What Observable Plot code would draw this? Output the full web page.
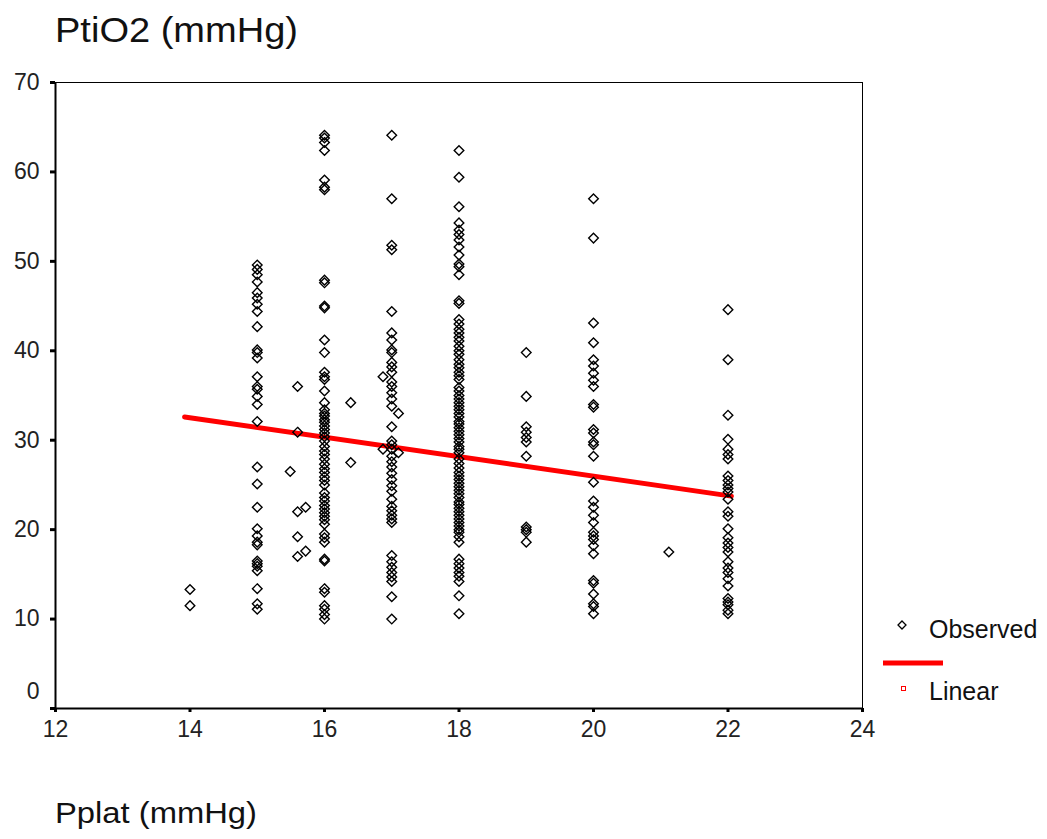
<!DOCTYPE html>
<html><head><meta charset="utf-8">
<script src="https://cdn.jsdelivr.net/npm/d3@7"></script>
<script src="https://cdn.jsdelivr.net/npm/@observablehq/plot@0.6"></script>
<style>
body{margin:0;background:#fff;}
#wrap{position:relative;width:1047px;height:839px;overflow:hidden;}
#wrap svg{position:absolute;left:0;top:0;}
</style></head><body><div id="wrap"></div>
<script>
const xTicks = [12, 14, 16, 18, 20, 22, 24];
const yTicks = [0, 10, 20, 30, 40, 50, 60, 70];

// Observed PtiO2 values per Pplat column
const obs14 = [13.3, 11.5];
const obs15 = [49.6, 49.1, 48.5, 47.7, 46.5, 45.9, 45.2, 44.4, 42.7, 40.1, 39.8, 39.2, 37.1, 36.0, 35.7, 34.9, 34.0, 32.1, 27.0, 25.1, 22.5, 20.1, 19.3, 18.6, 18.3, 16.5, 16.2, 15.9, 15.4, 13.4, 11.7, 11.1];
const obs16 = [64.1, 63.8, 63.3, 62.4, 59.1, 58.3, 58.0, 47.9, 47.6, 45.0, 44.8, 41.2, 39.8, 37.6, 37.1, 36.8, 35.5, 34.2, 33.4,
  33.0, 32.7, 32.3, 32.0, 31.6, 31.2, 30.8, 30.4, 29.9, 29.3, 28.8, 28.4, 27.9, 27.3, 26.8, 26.4, 25.9, 25.5, 25.0,
  24.1, 23.6, 23.2, 22.7, 22.3, 21.9, 21.5, 21.1, 20.6, 19.5, 19.1, 18.6, 16.7, 16.5, 13.4, 13.0, 11.5, 11.1, 10.5, 10.0];
const obs17 = [64.1, 57.0, 51.8, 51.3, 44.4, 42.0, 41.2, 40.1, 39.8, 38.7, 38.2, 37.6, 36.5, 36.0, 35.3, 34.6, 33.8, 31.5,
  29.9, 29.5, 29.0, 28.2, 27.6, 27.0, 26.3, 25.6, 24.9, 24.3, 23.4, 22.6, 22.1, 21.6, 21.2, 20.8, 17.1, 16.4, 15.8, 15.2, 14.7, 14.2, 12.5, 10.0];
const obs18 = [62.4, 59.4, 56.1, 54.3, 53.5, 53.0, 52.4, 51.6, 50.7, 49.7, 49.4, 48.5, 45.6, 45.3, 43.5, 43.0, 42.4, 42.0, 41.5,
  41.1, 40.5, 40.0, 39.6, 39.0, 38.5, 38.1, 37.6, 37.2, 36.8, 35.9, 35.5, 35.0, 34.6, 34.2, 33.8, 33.4, 33.0, 32.6, 32.1,
  31.8, 31.4, 31.0, 30.6, 30.2, 29.8, 29.3, 29.0, 28.6, 27.9, 27.4, 26.9, 26.4, 26.0, 25.6, 25.2, 24.8, 24.4, 24.0, 23.6,
  23.1, 22.8, 22.4, 22.0, 21.6, 21.2, 20.8, 20.4, 20.0, 19.7, 19.2, 18.6, 16.7, 16.2, 15.7, 15.2, 14.8, 14.2, 12.6, 10.6];
const obs19 = [39.8, 34.9, 31.5, 30.9, 30.3, 29.8, 28.2, 20.3, 20.0, 19.7, 18.6];
const obs20 = [57.0, 52.6, 43.1, 40.9, 39.0, 38.3, 37.5, 36.7, 36.0, 34.0, 33.7, 31.2, 30.8, 29.8, 29.5, 28.2, 25.3, 23.2,
  22.5, 21.6, 20.8, 19.7, 19.3, 18.9, 18.2, 17.3, 14.3, 14.0, 12.8, 11.7, 11.4, 10.6];
const obs22 = [44.6, 39.0, 32.8, 30.1, 29.0, 28.4, 27.9, 26.0, 25.5, 25.0, 24.6, 24.2, 23.4, 22.0, 21.5, 20.1, 19.1, 18.5,
  18.0, 17.5, 16.4, 15.7, 15.2, 14.5, 13.7, 12.3, 11.9, 11.6, 11.0, 10.6];

// Observed points lying between the columns
const offX = [15.49, 15.6, 15.6, 15.6, 15.72, 15.6, 15.6, 15.72, 16.39, 16.39, 16.87, 17.1, 16.87, 17.1, 21.12];
const offY = [26.5, 36.0, 30.9, 22.0, 22.5, 19.2, 17.0, 17.6, 34.2, 27.5, 37.1, 33.0, 29.0, 28.6, 17.5];

// Linear fit end points
const fitX = [13.92, 22.05];
const fitY = [32.6, 23.75];

const columns = [[14, obs14], [15, obs15], [16, obs16], [17, obs17], [18, obs18], [19, obs19], [20, obs20], [22, obs22]];
const points = [];
for (const [x, arr] of columns) for (const v of arr) points.push({x, y: v});
offX.forEach((x, i) => points.push({x, y: offY[i]}));
const fit = fitX.map((x, i) => ({x, y: fitY[i]}));

const diamond = {draw(ctx, size) {
  const r = Math.sqrt(size / Math.PI);
  ctx.moveTo(0, -r); ctx.lineTo(r, 0); ctx.lineTo(0, r); ctx.lineTo(-r, 0); ctx.closePath();
}};

const FONT = "'Liberation Sans', Arial, Helvetica, sans-serif";

const chart = Plot.plot({
  width: 1047, height: 839,
  marginLeft: 55, marginRight: 185, marginTop: 82, marginBottom: 131,
  x: {domain: [12, 24]},
  y: {domain: [0, 70]},
  style: {fontFamily: FONT, background: "white"},
  marks: [
    Plot.ruleY([70], {stroke: "black", strokeWidth: 1}),
    Plot.ruleX([24], {stroke: "black", strokeWidth: 1}),
    Plot.line(fit, {x: "x", y: "y", stroke: "#ff0000", strokeWidth: 5}),
    Plot.dot(points, {x: "x", y: "y", symbol: diamond, r: 4.8, stroke: "black", strokeWidth: 1.4, fill: "none"}),
    Plot.ruleX([12], {stroke: "black", strokeWidth: 2}),
    Plot.ruleY([0], {stroke: "black", strokeWidth: 2}),
    Plot.axisY(yTicks, {tickSize: 5, strokeWidth: 3, tickPadding: 11, fontSize: 23, fill: "#222", stroke: "black",
      tickFormat: d => d === 0 ? "" : String(d), label: null}),
    Plot.text([0], {x: 12, y: d => d, text: d => String(d), dx: -16, dy: -17, textAnchor: "end", fontSize: 23, fill: "#222"}),
    Plot.axisX(xTicks, {tickSize: 4, strokeWidth: 3, tickPadding: 8, fontSize: 23, fill: "#222", stroke: "black", label: null})
  ]
});

const wrap = document.getElementById("wrap");
wrap.appendChild(chart);

// Title, axis label and legend overlay
const ov = d3.select(wrap).append("svg").attr("width", 1047).attr("height", 839)
  .style("font-family", FONT).style("pointer-events", "none");
ov.append("text").attr("x", 55).attr("y", 42).attr("font-size", 35).attr("fill", "#111")
  .attr("textLength", 243).attr("lengthAdjust", "spacingAndGlyphs").text("PtiO2 (mmHg)");
ov.append("text").attr("x", 55).attr("y", 823).attr("font-size", 30).attr("fill", "#111")
  .attr("textLength", 202).attr("lengthAdjust", "spacingAndGlyphs").text("Pplat (mmHg)");
const lg = ov.append("g");
lg.append("path").attr("d", "M902,621L906,625L902,629L898,625Z").attr("fill", "none").attr("stroke", "black").attr("stroke-width", 1.3);
lg.append("text").attr("x", 929).attr("y", 638).attr("font-size", 25).attr("fill", "#111").text("Observed");
lg.append("line").attr("x1", 883).attr("x2", 943).attr("y1", 663).attr("y2", 663).attr("stroke", "#ff0000").attr("stroke-width", 5);
lg.append("rect").attr("x", 901.5).attr("y", 686.5).attr("width", 4).attr("height", 4).attr("fill", "none").attr("stroke", "#ff0000");
lg.append("text").attr("x", 929).attr("y", 700).attr("font-size", 25).attr("fill", "#111").text("Linear");
</script></body></html>
